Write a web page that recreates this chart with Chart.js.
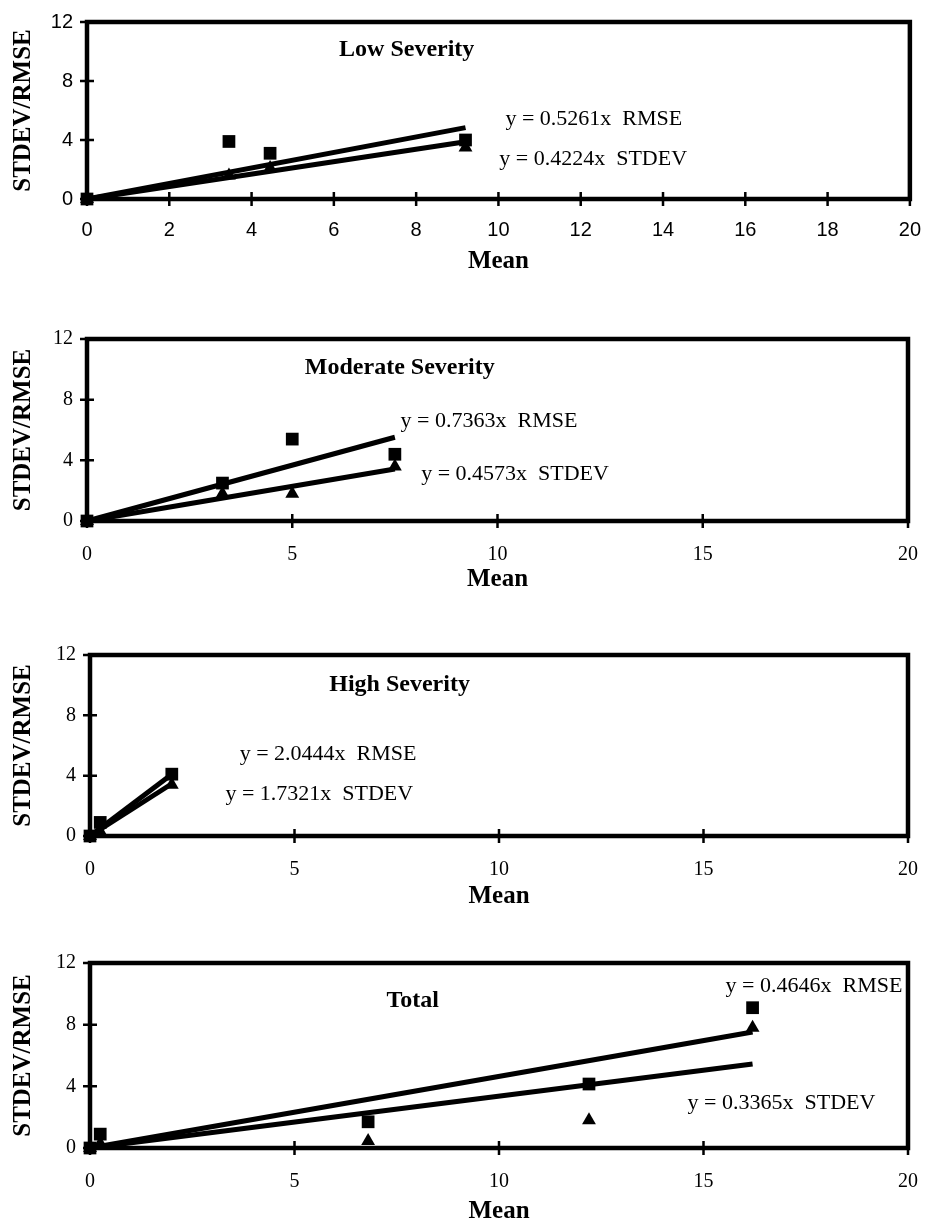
<!DOCTYPE html>
<html>
<head>
<meta charset="utf-8">
<title>STDEV / RMSE vs Mean</title>
<script src="https://cdn.jsdelivr.net/npm/chart.js@4.4.1/dist/chart.umd.min.js"></script>
<style>
  html, body { margin: 0; padding: 0; background: #fff; overflow: hidden; }
  #page { position: relative; width: 940px; height: 1224px; background: #fff; }
</style>
</head>
<body>
<div id="page"></div>
<script>
// ---- data: mean vs STDEV / RMSE per severity class ----
const lowMean  = [0, 3.45, 4.45, 9.2];
const lowRmse  = [0, 3.9, 3.1, 4.0];
const lowStdev = [0, 1.6, 2.1, 3.5];
const lowRmseSlope  = 0.5261;
const lowStdevSlope = 0.4224;

const modMean  = [0, 3.3, 5.0, 7.5];
const modRmse  = [0, 2.5, 5.4, 4.4];
const modStdev = [0, 1.8, 1.8, 3.6];
const modRmseSlope  = 0.7363;
const modStdevSlope = 0.4573;

const highMean  = [0, 0.25, 2.0];
const highRmse  = [0, 0.9, 4.1];
const highStdev = [0, 0.3, 3.4];
const highRmseSlope  = 2.0444;
const highStdevSlope = 1.7321;

const totalMean  = [0, 0.25, 6.8, 12.2, 16.2];
const totalRmse  = [0, 0.9, 1.7, 4.15, 9.1];
const totalStdev = [0, 0.3, 0.45, 1.8, 7.8];
const totalRmseSlope  = 0.4646;
const totalStdevSlope = 0.3365;

// tick labels
const xTicksFine   = [0, 2, 4, 6, 8, 10, 12, 14, 16, 18, 20];
const xTicksCoarse = [0, 5, 10, 15, 20];
const yTicks       = [0, 4, 8, 12];

const SERIF = '"Liberation Serif", "Times New Roman", serif';
const SANS  = '"Liberation Sans", Arial, sans-serif';

Chart.defaults.color = '#000';
Chart.defaults.animation = false;

// frame, crossing tick marks, panel title and trend equations
const axisFrame = {
  id: 'axisFrame',
  beforeDatasetsDraw(chart) {
    const { ctx, chartArea: a, scales: { x, y } } = chart;
    ctx.save();
    ctx.strokeStyle = '#000';
    ctx.lineWidth = 4.5;
    ctx.strokeRect(a.left, a.top, a.right - a.left, a.bottom - a.top);
    ctx.lineWidth = 2.5;
    ctx.beginPath();
    x.ticks.forEach(t => {
      const px = x.getPixelForValue(t.value);
      ctx.moveTo(px, a.bottom - 7);
      ctx.lineTo(px, a.bottom + 7);
    });
    y.ticks.forEach(t => {
      const py = y.getPixelForValue(t.value);
      ctx.moveTo(a.left - 7, py);
      ctx.lineTo(a.left + 7, py);
    });
    ctx.stroke();
    ctx.restore();
  },
  afterDraw(chart, args, opts) {
    const { ctx, scales: { x, y } } = chart;
    ctx.save();
    ctx.fillStyle = '#000';
    ctx.textBaseline = 'middle';
    ctx.font = 'bold 24px ' + SERIF;
    ctx.textAlign = 'center';
    ctx.fillText(opts.title, x.getPixelForValue(opts.titleAt[0]), y.getPixelForValue(opts.titleAt[1]));
    ctx.font = '22px ' + SERIF;
    ctx.textAlign = 'left';
    opts.notes.forEach(n => {
      ctx.fillText(n.text, x.getPixelForValue(n.at[0]), y.getPixelForValue(n.at[1]));
    });
    ctx.restore();
  }
};

function eq(slope, name) {
  return 'y = ' + slope.toFixed(4) + 'x  ' + name;
}

function makePanel(p) {
  const padTop = 20;
  const axisH = p.meanY - p.area.bottom + 15;
  const h = padTop + (p.area.bottom - p.area.top) + axisH;
  const canvas = document.createElement('canvas');
  canvas.width = 940;
  canvas.height = h;
  canvas.style.cssText = 'position:absolute;left:0;top:' + (p.area.top - padTop) + 'px;width:940px;height:' + h + 'px';
  document.getElementById('page').appendChild(canvas);

  const xEnd = Math.max(...p.mean);
  const tickFont = { family: p.tickFamily, size: 20 };
  const pts = vals => p.mean.map((m, i) => ({ x: m, y: vals[i] }));
  const trend = slope => [{ x: 0, y: 0 }, { x: xEnd, y: slope * xEnd }];

  new Chart(canvas, {
    type: 'scatter',
    data: {
      datasets: [
        { label: 'RMSE trend', data: trend(p.rmseSlope), showLine: true, borderColor: '#000',
          borderWidth: 5, pointRadius: 0, clip: false },
        { label: 'STDEV trend', data: trend(p.stdevSlope), showLine: true, borderColor: '#000',
          borderWidth: 5, pointRadius: 0, clip: false },
        { label: 'RMSE', data: pts(p.rmse), pointStyle: 'rect', pointRadius: 9,
          backgroundColor: '#000', borderWidth: 0, clip: false },
        { label: 'STDEV', data: pts(p.stdev), pointStyle: 'triangle', pointRadius: 8,
          backgroundColor: '#000', borderWidth: 0, clip: false }
      ]
    },
    options: {
      responsive: false,
      events: [],
      layout: { padding: { top: padTop, right: 940 - p.area.right, left: 0, bottom: 0 } },
      plugins: {
        legend: { display: false },
        tooltip: { enabled: false },
        axisFrame: { title: p.title, titleAt: p.titleAt, notes: p.notes }
      },
      scales: {
        x: {
          type: 'linear', min: 0, max: 20,
          afterBuildTicks: a => { a.ticks = p.xTicks.map(v => ({ value: v })); },
          afterFit: a => { a.height = axisH; },
          grid: { display: false, drawTicks: false },
          border: { display: false },
          ticks: { font: tickFont, padding: p.xTickPad, maxRotation: 0, autoSkip: false },
          title: { display: true, text: 'Mean',
                   font: { family: SERIF, size: 25, weight: 'bold', lineHeight: 1 },
                   padding: { top: 0, bottom: 2.5 } }
        },
        y: {
          type: 'linear', min: 0, max: 12,
          afterBuildTicks: a => { a.ticks = yTicks.map(v => ({ value: v })); },
          afterFit: a => { a.width = p.area.left; },
          grid: { display: false, drawTicks: false },
          border: { display: false },
          ticks: { font: tickFont, padding: 14 },
          title: { display: true, text: 'STDEV/RMSE',
                   font: { family: SERIF, size: 25, weight: 'bold', lineHeight: 1 },
                   padding: { top: 11, bottom: 0 } }
        }
      }
    },
    plugins: [axisFrame]
  });
}

makePanel({
  area: { left: 87, right: 913, top: 16, bottom: 199 }, meanY: 262, xTickPad: 19,
  mean: lowMean, rmse: lowRmse, stdev: lowStdev,
  rmseSlope: lowRmseSlope, stdevSlope: lowStdevSlope,
  xTicks: xTicksFine, tickFamily: SANS,
  title: 'Low Severity', titleAt: [7.77, 10.1],
  notes: [
    { text: eq(lowRmseSlope, 'RMSE'), at: [10.17, 5.38] },
    { text: eq(lowStdevSlope, 'STDEV'), at: [10.02, 2.69] }
  ]
});

makePanel({
  area: { left: 87, right: 922, top: 333, bottom: 521 }, meanY: 580, xTickPad: 22,
  mean: modMean, rmse: modRmse, stdev: modStdev,
  rmseSlope: modRmseSlope, stdevSlope: modStdevSlope,
  xTicks: xTicksCoarse, tickFamily: SERIF,
  title: 'Moderate Severity', titleAt: [7.62, 10.08],
  notes: [
    { text: eq(modRmseSlope, 'RMSE'), at: [7.64, 6.57] },
    { text: eq(modStdevSlope, 'STDEV'), at: [8.14, 3.06] }
  ]
});

makePanel({
  area: { left: 90, right: 925, top: 649, bottom: 836 }, meanY: 897, xTickPad: 22,
  mean: highMean, rmse: highRmse, stdev: highStdev,
  rmseSlope: highRmseSlope, stdevSlope: highStdevSlope,
  xTicks: xTicksCoarse, tickFamily: SERIF,
  title: 'High Severity', titleAt: [7.57, 10.0],
  notes: [
    { text: eq(highRmseSlope, 'RMSE'), at: [3.66, 5.39] },
    { text: eq(highStdevSlope, 'STDEV'), at: [3.31, 2.76] }
  ]
});

makePanel({
  area: { left: 90, right: 929, top: 957, bottom: 1148 }, meanY: 1212, xTickPad: 22,
  mean: totalMean, rmse: totalRmse, stdev: totalStdev,
  rmseSlope: totalRmseSlope, stdevSlope: totalStdevSlope,
  xTicks: xTicksCoarse, tickFamily: SERIF,
  title: 'Total', titleAt: [7.89, 9.55],
  notes: [
    { text: eq(totalRmseSlope, 'RMSE'), at: [15.54, 10.49] },
    { text: eq(totalStdevSlope, 'STDEV'), at: [14.61, 2.89] }
  ]
});
</script>
</body>
</html>
